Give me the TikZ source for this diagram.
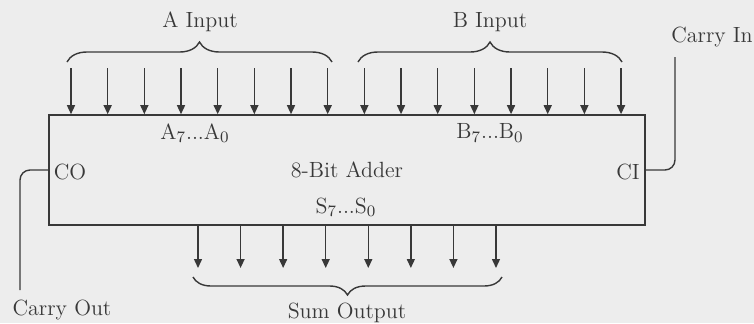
\documentclass[tikz,border=0pt]{standalone}
\usetikzlibrary{arrows.meta,decorations.pathreplacing}
\definecolor{ink}{HTML}{383838}
\definecolor{paper}{HTML}{EDEDED}

\begin{document}
\begin{tikzpicture}[x=0.5pt,y=-0.5pt,
  every node/.style={font=\fontsize{11}{13}\selectfont, text=ink},
  wire/.style={draw=ink, line width=0.7pt},
  sig/.style={wire, -{Triangle[length=4.5pt,width=4pt]}},
  bracetop/.style={wire, decorate, decoration={brace,amplitude=10pt}},
  bracebot/.style={wire, decorate, decoration={brace,amplitude=9pt,mirror}}]

%%%%paper
\fill[paper] (0,0) rectangle (754,323);
\useasboundingbox (0,0) rectangle (754,323);

%%%%adder box
\node[draw=ink, line width=0.8pt, minimum width=298pt, minimum height=55pt, inner sep=0] (adder) at (347,170) {8-Bit Adder};
\node (asub) at (195,133) {A$_7$...A$_0$};
\node (bsub) at (490,133) {B$_7$...B$_0$};
\node (ssub) at (346,207) {S$_7$...S$_0$};
\node (co) at (70,172) {CO};
\node (ci) at (628,172) {CI};

%%%%inputs
\node (ain) at (200,22) {A Input};
\node (bin) at (490,22) {B Input};
\draw[bracetop] (67,62) -- (332,62);
\draw[bracetop] (358,62) -- (622,62);
\foreach \i in {0,...,15} {
  \coordinate (in\i) at ({71+36.67*\i},68);
  \draw[sig] (in\i) -- (in\i |- adder.north);
}

%%%%sum
\foreach \i in {0,...,7} {
  \coordinate (s\i) at ({198+42.57*\i},268);
  \draw[sig] (s\i |- adder.south) -- (s\i);
}
\draw[bracebot] (193,277) -- (502,277);
\node (sout) at (347,313) {Sum Output};

%%%%carry
\node (cin) at (712,37) {Carry In};
\coordinate (cintop) at (675,57);
\draw[wire, rounded corners=5pt] (cintop) |- (adder.east);
\node (cout) at (62,310) {Carry Out};
\coordinate (coutend) at (20,290);
\draw[wire, rounded corners=5pt] (adder.west) -| (coutend);

\end{tikzpicture}
\end{document}
